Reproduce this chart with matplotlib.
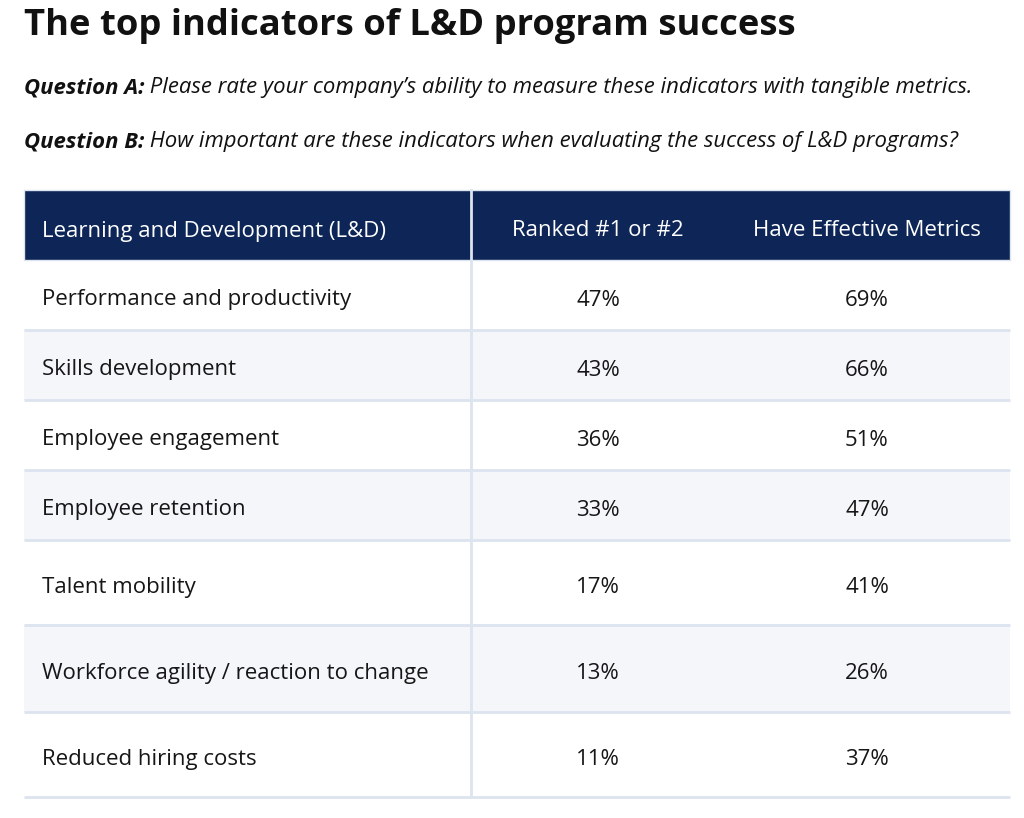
import matplotlib
matplotlib.use("Agg")
import matplotlib.pyplot as plt
from matplotlib.patches import Rectangle

plt.rcParams['font.family'] = ['Open Sans', 'DejaVu Sans']

title = "The top indicators of L&D program success"
questions = [
    ("Question A:", " Please rate your company\u2019s ability to measure these indicators with tangible metrics."),
    ("Question B:", " How important are these indicators when evaluating the success of L&D programs?"),
]
headers = ["Learning and Development (L&D)", "Ranked #1 or #2", "Have Effective Metrics"]
indicators = [
    "Performance and productivity",
    "Skills development",
    "Employee engagement",
    "Employee retention",
    "Talent mobility",
    "Workforce agility / reaction to change",
    "Reduced hiring costs",
]
ranked = [47, 43, 36, 33, 17, 13, 11]
effective = [69, 66, 51, 47, 41, 26, 37]

NAVY = "#0d2657"
SHADE = "#f4f6fa"
LINE = "#dce4ef"
TEXT = "#161616"

fig = plt.figure(figsize=(10.24, 8.18), dpi=100)
ax = fig.add_axes([0, 0, 1, 1])
ax.set_xlim(0, 1024)
ax.set_ylim(818, 0)
ax.axis("off")

left, right, divider = 24, 1010, 471
col_centers = [None, 598, 867]
row_edges = [260, 330, 400, 470, 540, 625, 712, 797]
body_fs = 16

ax.text(left, 26, title, fontsize=26.2, fontweight="bold", color="#111111", va="center")

fig.canvas.draw()
renderer = fig.canvas.get_renderer()
for (bold_part, rest), y in zip(questions, [88, 142]):
    t = ax.text(left, y, bold_part, fontsize=15.9, fontweight="bold", fontstyle="italic",
                color="#111111", va="center")
    bb = t.get_window_extent(renderer)
    x_end = ax.transData.inverted().transform((bb.x1, bb.y0))[0]
    ax.text(x_end, y, rest, fontsize=15.9, fontstyle="italic", color="#111111", va="center")

# header
ax.add_patch(Rectangle((left, 190), right - left, 70, facecolor=NAVY, edgecolor=LINE, lw=1))
ax.text(42, 231, headers[0], fontsize=body_fs, color="white", va="center")
for h, cx in zip(headers[1:], col_centers[1:]):
    ax.text(cx, 231, h, fontsize=body_fs, color="white", va="center", ha="center")

# body rows
for i, (name, r, e) in enumerate(zip(indicators, ranked, effective)):
    top, bot = row_edges[i], row_edges[i + 1]
    if i % 2 == 1:
        ax.add_patch(Rectangle((left, top), right - left, bot - top, facecolor=SHADE, edgecolor="none"))
    ax.plot([left, right], [bot, bot], color=LINE, lw=2, solid_capstyle="butt")
    yc = (top + bot) / 2 + 5
    ax.text(42, yc, name, fontsize=body_fs, color=TEXT, va="center")
    ax.text(col_centers[1], yc, f"{r}%", fontsize=body_fs, color=TEXT, va="center", ha="center")
    ax.text(col_centers[2], yc, f"{e}%", fontsize=body_fs, color=TEXT, va="center", ha="center")

ax.plot([divider, divider], [190, row_edges[-1]], color=LINE, lw=2)

fig.savefig("out.png", dpi=100)
